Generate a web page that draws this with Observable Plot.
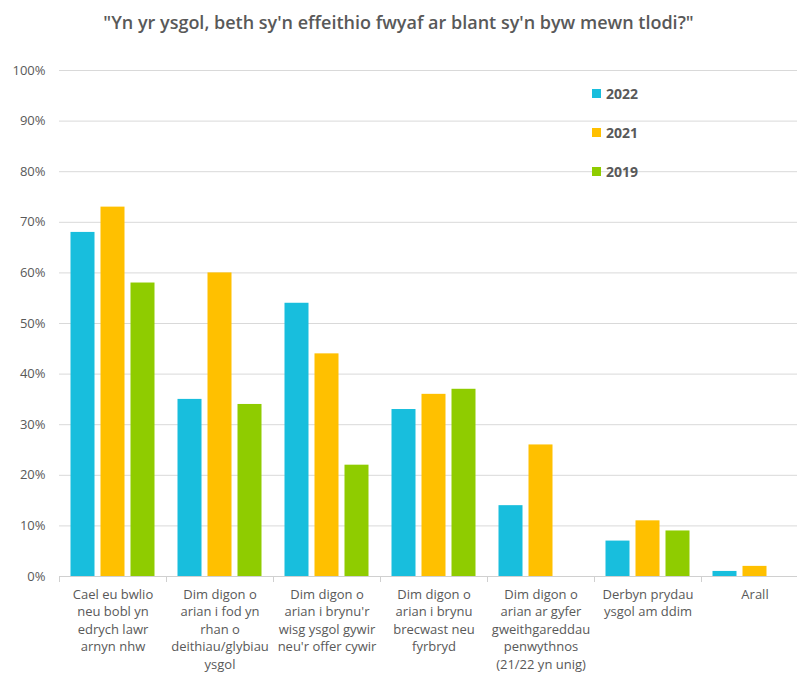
<!DOCTYPE html>
<html>
<head>
<meta charset="utf-8">
<script src="https://cdn.jsdelivr.net/npm/d3@7"></script>
<script src="https://cdn.jsdelivr.net/npm/@observablehq/plot@0.6"></script>
<style>
  body { margin: 0; background: #fff; font-family: "Open Sans", sans-serif; }
  #wrap { position: relative; width: 797px; height: 673px; overflow: hidden; }
  #title { height: 45px; line-height: 44px; text-align: center; font-size: 18px; font-weight: 600; color: #595959; }
  .lg { position: absolute; display: flex; align-items: center; font-size: 14px; font-weight: 700; color: #595959; height: 20px; }
  .lg span.sw { display: inline-block; width: 9px; height: 9px; margin-right: 5px; }
</style>
</head>
<body>
<div id="wrap">
  <div id="title">"Yn yr ysgol, beth sy'n effeithio fwyaf ar blant sy'n byw mewn tlodi?"</div>
  <div id="chart"></div>
</div>
<script>
const categories = [
  "Cael eu bwlio\nneu bobl yn\nedrych lawr\narnyn nhw",
  "Dim digon o\narian i fod yn\nrhan o\ndeithiau/glybiau\nysgol",
  "Dim digon o\narian i brynu'r\nwisg ysgol gywir\nneu'r offer cywir",
  "Dim digon o\narian i brynu\nbrecwast neu\nfyrbryd",
  "Dim digon o\narian ar gyfer\ngweithgareddau\npenwythnos\n(21/22 yn unig)",
  "Derbyn prydau\nysgol am ddim",
  "Arall"
];
const seriesNames = ["2022", "2021", "2019"];
const values2022 = [68, 35, 54, 33, 14, 7, 1];
const values2021 = [73, 60, 44, 36, 26, 11, 2];
const values2019 = [58, 34, 22, 37, null, 9, null];
const yTicks = [0, 10, 20, 30, 40, 50, 60, 70, 80, 90, 100];
const colors = ["#18bedd", "#ffc000", "#8fcc00"];

const seriesValues = [values2022, values2021, values2019];
const rows = [];
seriesValues.forEach((vals, s) => {
  vals.forEach((v, i) => {
    if (v != null) rows.push({category: categories[i], series: seriesNames[s], value: v});
  });
});

const offsets = [-30, 0, 30];
const barMarks = seriesNames.map((name, s) =>
  Plot.barY(rows.filter(d => d.series === name), {
    x: "category", y: "value", fill: colors[s],
    insetLeft: 41.5, insetRight: 41.5, dx: offsets[s]
  })
);

const chart = Plot.plot({
  width: 797,
  height: 628,
  marginLeft: 59,
  marginRight: -11,
  marginTop: 25,
  marginBottom: 97,
  style: { fontFamily: "Open Sans, sans-serif", fontSize: "13px", color: "#595959", overflow: "visible", background: "#fff" },
  x: { domain: categories, padding: 0, label: null },
  y: { domain: [0, 100], label: null },
  marks: [
    Plot.gridY(yTicks, { stroke: "#d9d9d9", strokeOpacity: 1 }),
    Plot.axisY(yTicks, { tickSize: 0, tickPadding: 14, tickFormat: d => d + "%", label: null, fill: "#595959" }),
    Plot.axisX({ tickSize: 0, tickPadding: 10, lineHeight: 1.34, label: null, fill: "#595959" }),
    Plot.ruleY([0], { stroke: "#d0d0d0" }),
    Plot.ruleX(categories, { x: d => d, dx: -53.5, y1: 0, y2: 0, insetBottom: -6, stroke: "#d0d0d0" }),
    ...barMarks
  ]
});
document.getElementById("chart").appendChild(chart);

// legend
const legendTops = [83, 122, 161];
seriesNames.forEach((name, s) => {
  const el = document.createElement("div");
  el.className = "lg";
  el.style.left = "592px";
  el.style.top = legendTops[s] + "px";
  el.innerHTML = `<span class="sw" style="background:${colors[s]}"></span>${name}`;
  document.getElementById("wrap").appendChild(el);
});
</script>
</body>
</html>
